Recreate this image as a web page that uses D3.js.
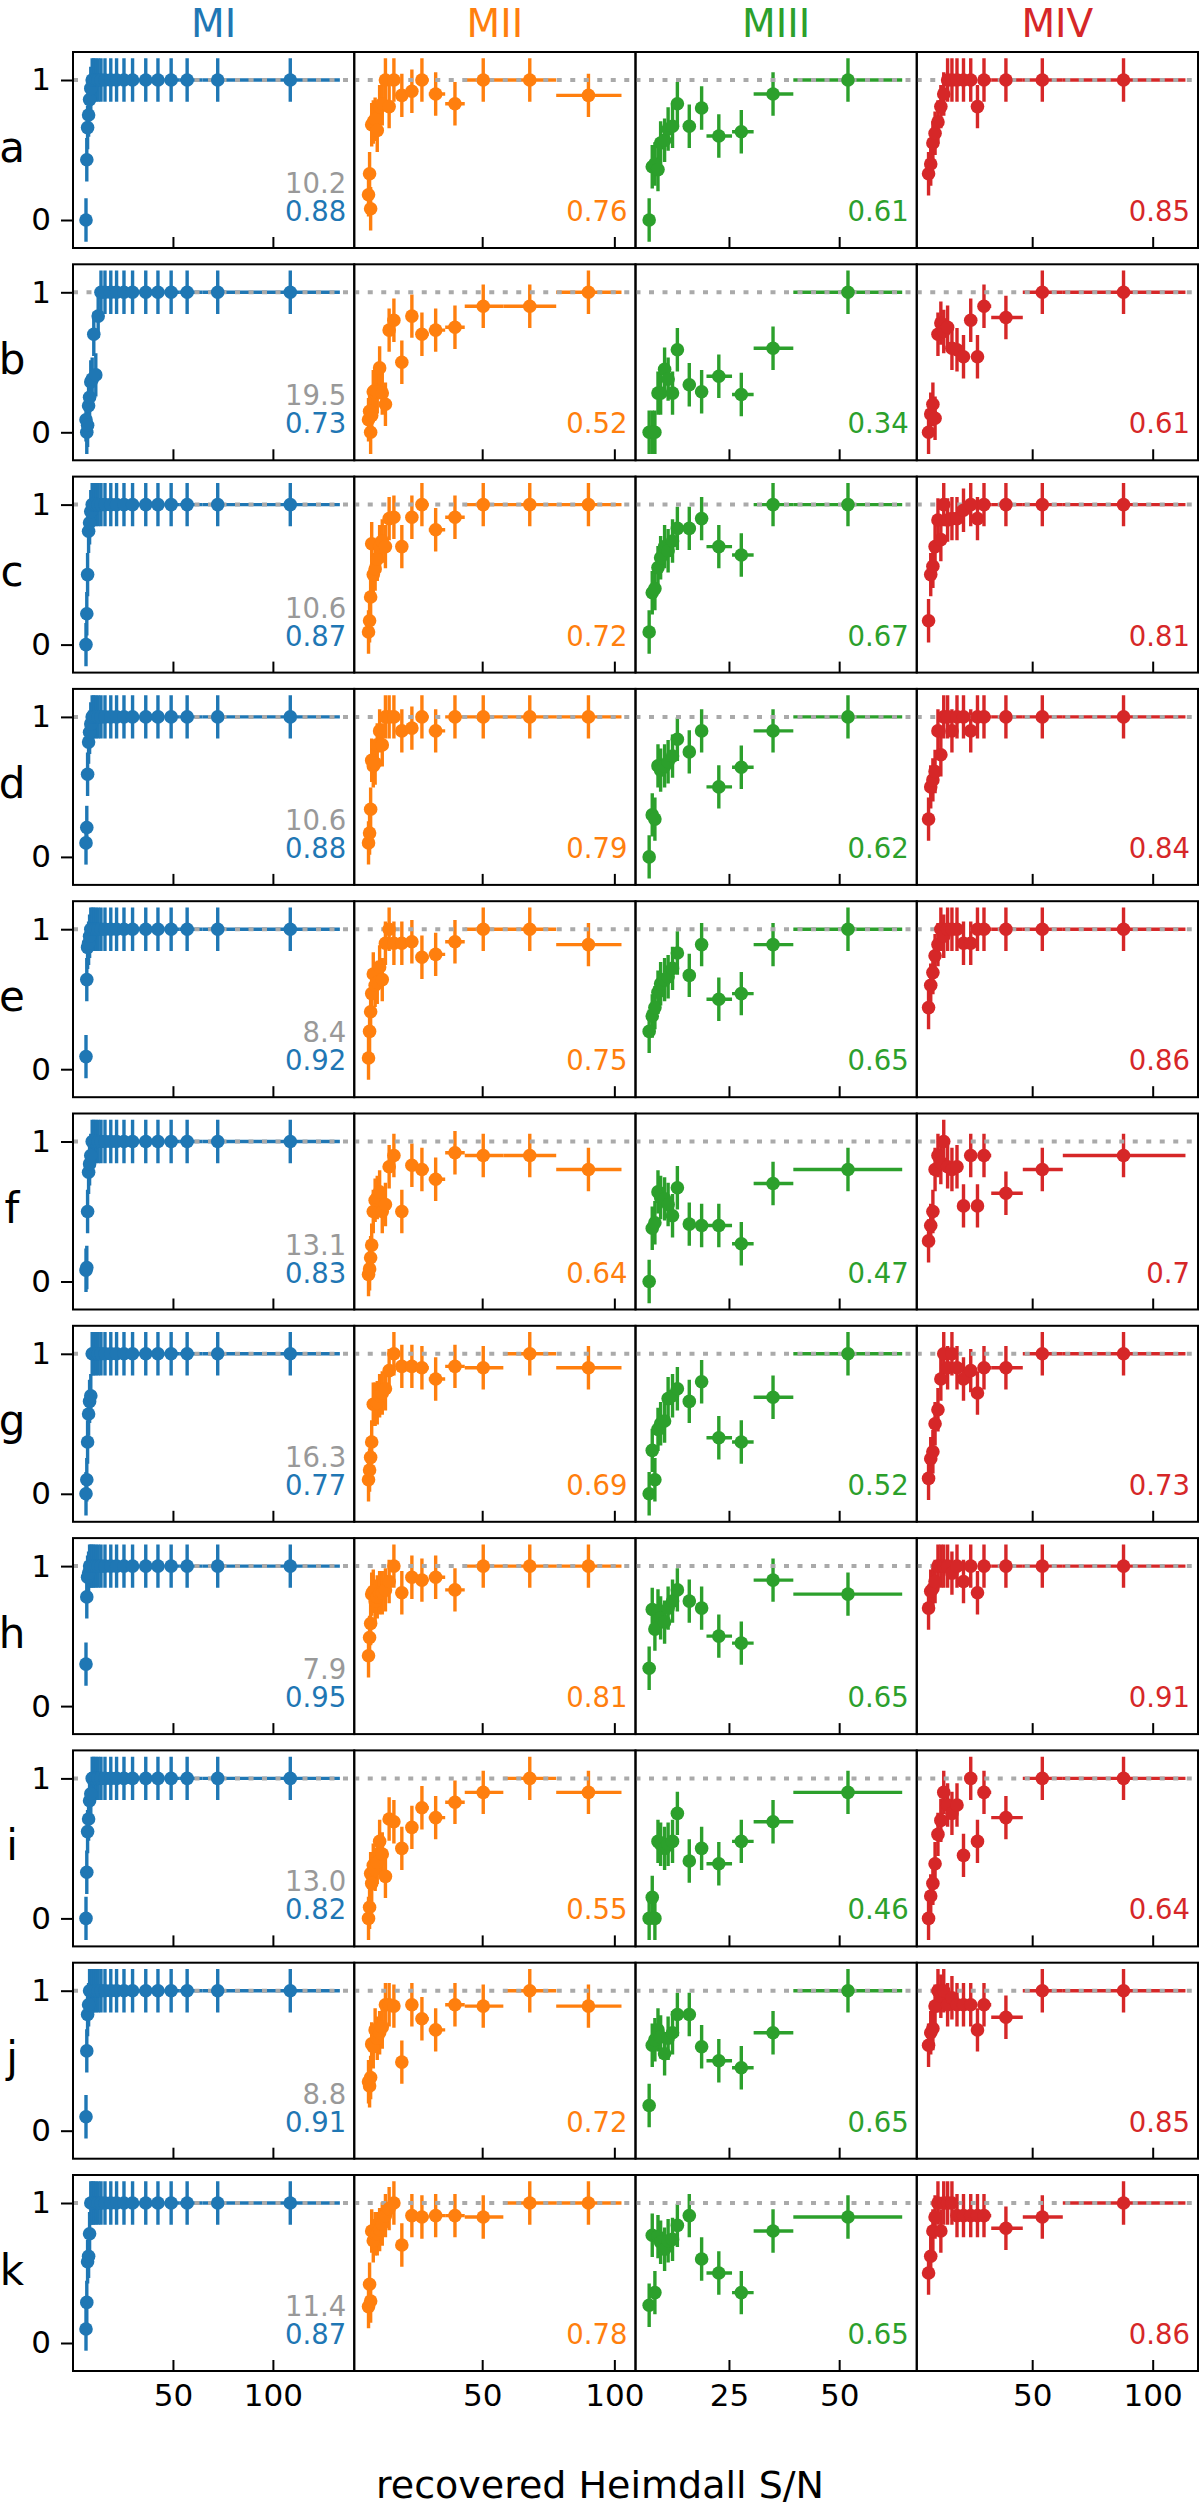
<!DOCTYPE html>
<html><head><meta charset="utf-8">
<script src="https://cdn.jsdelivr.net/npm/d3@7"></script>
<style>
body{margin:0;background:#fff}
svg{display:block}
text{font-family:"DejaVu Sans",sans-serif}
</style>
</head><body>
<svg id="chart" width="1200" height="2507"></svg>
<script>
// ---------- DATA ----------
const rowLabels = ["a","b","c","d","e","f","g","h","i","j","k"];
const modelNames = ["MI","MII","MIII","MIV"];
const modelColors = ["#1f77b4","#ff7f0e","#2ca02c","#d62728"];

// recovered S/N bin centres and bin edges per model
const snrMI = [6.5,6.9,7.3,7.8,8.3,8.9,9.6,10.4,11.4,12.6,14.0,16.0,18.9,21.8,25.5,29.8,36.4,42.5,49.1,57.1,72.4,108.7];
const edgesMI = [6.3,6.7,7.1,7.55,8.05,8.6,9.25,10.0,10.9,12.0,13.3,15.0,17.45,20.35,23.65,27.65,33.1,39.45,45.8,53.1,64.75,90.5,133.5];
const snrMII = [7.0,7.4,7.8,8.2,8.8,9.5,10.3,11.2,12.2,13.4,14.8,16.6,19.6,23.4,27.2,32.4,39.7,50.4,68.0,90.2];
const edgesMII = [6.6,7.2,7.6,8.0,8.5,9.15,9.9,10.75,11.7,12.8,14.1,15.7,18.1,21.5,25.3,29.8,36.0,43.4,58.0,78.0,102.7];
const snrMIII = [6.9,7.6,8.2,8.9,9.5,10.4,11.2,12.2,13.3,16.0,18.8,22.7,27.8,35.0,52.0];
const edgesMIII = [6.6,7.25,7.9,8.55,9.2,9.95,10.8,11.7,12.75,14.6,17.4,19.9,25.7,30.6,39.6,64.3];
const snrMIV = [7.0,7.9,8.8,9.7,10.9,12.1,13.3,14.9,16.7,18.8,21.5,24.5,27.3,30.0,39.1,54.2,87.9];
const edgesMIV = [6.5,7.45,8.35,9.25,10.3,11.5,12.7,14.1,15.8,17.75,20.15,23.0,25.9,28.65,33.0,46.1,62.7,113.6];

// recovery fraction per row (a..k)
const recMI = [
 [0,0.43,0.66,0.75,0.86,0.94,1,1,1,1,1,1,1,1,1,1,1,1,1,1,1,1],
 [0.09,0,0.05,0.19,0.25,0.36,0.38,0.7,0.41,0.83,1,1,1,1,1,1,1,1,1,1,1,1],
 [0,0.22,0.5,0.81,0.87,0.95,1,1,1,1,1,1,1,1,1,1,1,1,1,1,1,1],
 [0.1,0.21,0.59,0.82,0.89,0.95,1,1,1,1,1,1,1,1,1,1,1,1,1,1,1,1],
 [0.09,0.64,0.87,0.9,0.95,1,1,1,1,1,1,1,1,1,1,1,1,1,1,1,1,1],
 [0.08,0.1,0.5,0.78,0.84,0.9,1,1,1,1,1,1,1,1,1,1,1,1,1,1,1,1],
 [0,0.1,0.37,0.57,0.66,0.7,1,1,1,1,1,1,1,1,1,1,1,1,1,1,1,1],
 [0.3,0.78,0.92,0.95,1,1,1,1,1,1,1,1,1,1,1,1,1,1,1,1,1,1],
 [0,0.33,0.62,0.71,0.84,0.89,1,1,1,1,1,1,1,1,1,1,1,1,1,1,1,1],
 [0.1,0.57,0.83,0.9,1,1,1,1,1,1,1,1,1,1,1,1,1,1,1,1,1,1],
 [0.1,0.29,0.58,0.62,0.78,1,1,1,1,1,1,1,1,1,1,1,1,1,1,1,1,1]
];
const recMII = [
 [0.18,0.33,0.08,0.68,0.7,0.72,0.64,0.81,0.83,1,0.81,1,0.89,0.92,1,0.9,0.83,1,1,0.89],
 [0.09,0.15,0,0.12,0.29,0.3,0.29,0.46,0.28,0.2,0.73,0.8,0.5,0.83,0.7,0.73,0.75,0.9,0.9,1],
 [0.09,0.17,0.34,0.72,0.5,0.54,0.61,0.7,0.74,0.7,0.9,0.91,0.7,0.91,1,0.82,0.91,1,1,1],
 [0.1,0.17,0.34,0.69,0.65,0.67,0.8,0.9,0.8,1,1,1,0.9,0.92,1,0.9,1,1,1,1],
 [0.08,0.27,0.41,0.54,0.68,0.6,0.62,0.73,0.64,0.9,1,0.9,0.9,0.91,0.8,0.82,0.91,1,1,0.89],
 [0.05,0.09,0.17,0.26,0.5,0.58,0.6,0.64,0.5,0.55,0.82,0.9,0.5,0.83,0.8,0.73,0.92,0.9,0.9,0.8],
 [0.1,0.17,0.26,0.37,0.64,0.64,0.65,0.7,0.72,0.75,0.88,1,0.91,0.91,0.9,0.82,0.91,0.9,1,0.9],
 [0.36,0.49,0.59,0.8,0.82,0.75,0.78,0.81,0.81,0.83,0.89,1,0.81,0.92,0.9,0.92,0.83,1,1,1],
 [0,0.08,0.32,0.25,0.38,0.35,0.4,0.55,0.46,0.3,0.71,0.69,0.5,0.65,0.79,0.72,0.83,0.9,1,0.9],
 [0.35,0.32,0.38,0.62,0.6,0.72,0.66,0.7,0.74,0.9,0.9,0.89,0.49,0.9,0.8,0.72,0.9,0.89,1,0.89],
 [0.26,0.42,0.3,0.8,0.73,0.78,0.78,0.81,0.85,0.91,0.96,1,0.7,0.91,0.9,0.91,0.91,0.9,1,1]
];
const recMIII = [
 [0,0.38,0.4,0.36,0.55,0.57,0.65,0.67,0.83,0.67,0.8,0.6,0.63,0.9,1],
 [0,0,0,0.28,0.28,0.45,0.38,0.28,0.59,0.34,0.29,0.4,0.27,0.6,1],
 [0.09,0.37,0.4,0.55,0.62,0.7,0.67,0.74,0.83,0.83,0.9,0.7,0.64,1,1],
 [0,0.3,0.27,0.65,0.62,0.65,0.68,0.72,0.84,0.75,0.9,0.5,0.64,0.9,1],
 [0.27,0.38,0.44,0.55,0.61,0.64,0.66,0.72,0.83,0.67,0.89,0.5,0.54,0.89,1],
 [0,0.38,0.42,0.64,0.6,0.59,0.55,0.47,0.67,0.41,0.4,0.4,0.27,0.7,0.8],
 [0,0.31,0.1,0.46,0.5,0.52,0.68,0.7,0.75,0.66,0.8,0.4,0.37,0.69,1],
 [0.27,0.69,0.55,0.68,0.63,0.6,0.7,0.75,0.83,0.75,0.7,0.5,0.45,0.9,0.8],
 [0,0.15,0,0.55,0.53,0.5,0.53,0.55,0.75,0.41,0.5,0.39,0.55,0.69,0.9],
 [0.18,0.61,0.65,0.72,0.67,0.55,0.66,0.7,0.83,0.83,0.6,0.5,0.45,0.7,1],
 [0.27,0.77,0.36,0.76,0.72,0.67,0.73,0.74,0.84,0.91,0.6,0.5,0.36,0.8,0.9]
];
const recMIV = [
 [0.33,0.4,0.55,0.62,0.7,0.81,0.9,1,1,1,1,1,0.81,1,1,1,1],
 [0,0.13,0.2,0.1,0.7,0.78,0.72,0.75,0.6,0.59,0.54,0.8,0.54,0.9,0.82,1,1],
 [0.17,0.5,0.56,0.7,0.89,0.75,1,0.89,0.9,0.9,0.96,1,0.9,1,1,1,1],
 [0.27,0.5,0.55,0.61,0.9,0.73,1,1,0.9,1,1,0.9,1,1,1,1,1],
 [0.44,0.6,0.69,0.81,0.89,1,0.95,1,1,1,0.9,0.9,1,1,1,1,1],
 [0.29,0.4,0.5,0.8,0.9,0.85,1,0.82,0.8,0.82,0.54,0.9,0.54,0.9,0.63,0.8,0.9],
 [0.11,0.25,0.3,0.5,0.6,0.82,1,0.9,1,0.9,0.82,0.88,0.72,0.9,0.9,1,1],
 [0.7,0.82,0.84,0.89,1,1,1,1,0.95,1,0.89,1,0.81,1,1,1,1],
 [0,0.16,0.25,0.39,0.6,0.7,0.9,0.81,0.75,0.81,0.45,1,0.55,0.9,0.72,1,1],
 [0.61,0.7,0.73,0.89,1,0.96,1,0.9,0.95,0.9,0.9,0.9,0.72,0.9,0.81,1,1],
 [0.5,0.62,0.8,0.9,1,0.8,1,1,1,0.91,0.91,0.91,0.91,0.91,0.82,0.9,1]
];
const recErr = 0.155;

// annotations
const thresholdMI = ["10.2","19.5","10.6","10.6","8.4","13.1","16.3","7.9","13.0","8.8","11.4"];
const scoreMI   = ["0.88","0.73","0.87","0.88","0.92","0.83","0.77","0.95","0.82","0.91","0.87"];
const scoreMII  = ["0.76","0.52","0.72","0.79","0.75","0.64","0.69","0.81","0.55","0.72","0.78"];
const scoreMIII = ["0.61","0.34","0.67","0.62","0.65","0.47","0.52","0.65","0.46","0.65","0.65"];
const scoreMIV  = ["0.85","0.61","0.81","0.84","0.86","0.7","0.73","0.91","0.64","0.85","0.86"];

// axes
const xDomainMI = [0, 140.7], xDomainMII = [1.6, 108], xDomainMIII = [3.8, 67.6], xDomainMIV = [2.1, 118.8];
const xTicksMI = [50,100], xTicksMII = [50,100], xTicksMIII = [25,50], xTicksMIV = [50,100];
const yDomain = [-0.2, 1.2];
const yTicks = [0, 1];
const xLabel = "recovered Heimdall S/N";

// ---------- LAYOUT ----------
const L = 73, T = 52, PW = 281.25, PH = 196, RS = 212.3;
const FONT = '"DejaVu Sans", sans-serif';
const cols = [
 {snr:snrMI, edges:edgesMI, rec:recMI, score:scoreMI, dom:xDomainMI, ticks:xTicksMI},
 {snr:snrMII, edges:edgesMII, rec:recMII, score:scoreMII, dom:xDomainMII, ticks:xTicksMII},
 {snr:snrMIII, edges:edgesMIII, rec:recMIII, score:scoreMIII, dom:xDomainMIII, ticks:xTicksMIII},
 {snr:snrMIV, edges:edgesMIV, rec:recMIV, score:scoreMIV, dom:xDomainMIV, ticks:xTicksMIV}
];

const svg = d3.select("#chart");

// column titles
modelNames.forEach((m, c) => {
  svg.append("text").attr("x", L + c*PW + PW/2).attr("y", 37)
    .attr("text-anchor","middle").attr("font-size", 39).attr("fill", modelColors[c]).text(m);
});

rowLabels.forEach((lab, r) => {
  const top = T + r*RS;
  svg.append("text").attr("x", 12).attr("y", top + PH/2)
    .attr("text-anchor","middle").attr("dominant-baseline","middle")
    .attr("font-size", 42).attr("fill","#000").text(lab);

  cols.forEach((col, c) => {
    const color = modelColors[c];
    const g = svg.append("g").attr("transform", `translate(${L + c*PW},${top})`);
    const x = d3.scaleLinear().domain(col.dom).range([0, PW]);
    const y = d3.scaleLinear().domain(yDomain).range([PH, 0]);
    const cid = `clip-${r}-${c}`;
    g.append("clipPath").attr("id", cid).append("rect").attr("width", PW).attr("height", PH);
    const pg = g.append("g").attr("clip-path", `url(#${cid})`);
    const pts = col.rec[r].map((v, i) => ({s: col.snr[i], lo: col.edges[i], hi: col.edges[i+1], v}));

    pg.selectAll("line.xe").data(pts).join("line").attr("class","xe")
      .attr("x1", d => x(d.lo)).attr("x2", d => x(d.hi))
      .attr("y1", d => y(d.v)).attr("y2", d => y(d.v))
      .attr("stroke", color).attr("stroke-width", 3.4);
    pg.selectAll("line.ye").data(pts).join("line").attr("class","ye")
      .attr("x1", d => x(d.s)).attr("x2", d => x(d.s))
      .attr("y1", d => y(d.v - recErr)).attr("y2", d => y(d.v + recErr))
      .attr("stroke", color).attr("stroke-width", 3.4);
    pg.append("line").attr("x1", 0).attr("x2", PW).attr("y1", y(1)).attr("y2", y(1))
      .attr("stroke", "#aaaaaa").attr("stroke-width", 4).attr("stroke-dasharray", "5 8.5");
    pg.selectAll("circle").data(pts).join("circle")
      .attr("cx", d => x(d.s)).attr("cy", d => y(d.v)).attr("r", 6.8).attr("fill", color);

    // x axis (ticks inward)
    const xa = d3.axisBottom(x).tickValues(col.ticks).tickSize(-11).tickPadding(13)
      .tickFormat(r === rowLabels.length - 1 ? d3.format("d") : () => "");
    const xg = g.append("g").attr("transform", `translate(0,${PH})`).call(xa);
    xg.select(".domain").remove();
    xg.selectAll(".tick line").attr("stroke","#000").attr("stroke-width",2);
    xg.selectAll(".tick text").attr("font-size", 31).attr("font-family", FONT).attr("fill","#000");

    if (c === 0) {
      const ya = d3.axisLeft(y).tickValues(yTicks).tickSize(12).tickPadding(10).tickFormat(d3.format("d"));
      const yg = g.append("g").call(ya);
      yg.select(".domain").remove();
      yg.selectAll(".tick line").attr("stroke","#000").attr("stroke-width",2);
      yg.selectAll(".tick text").attr("font-size", 31).attr("font-family", FONT).attr("fill","#000");
      g.append("text").attr("x", PW - 8).attr("y", y(0) - 27).attr("text-anchor","end")
        .attr("font-size", 27.5).attr("fill", "#999999").text(thresholdMI[r]);
    }
    g.append("text").attr("x", PW - 8).attr("y", y(0) + 1).attr("text-anchor","end")
      .attr("font-size", 27.5).attr("fill", color).text(col.score[r]);

    g.append("rect").attr("width", PW).attr("height", PH)
      .attr("fill","none").attr("stroke","#000").attr("stroke-width",2);
  });
});

svg.append("text").attr("x", 600).attr("y", 2498).attr("text-anchor","middle")
  .attr("font-size", 38).attr("fill","#000").text(xLabel);
</script>
</body></html>
